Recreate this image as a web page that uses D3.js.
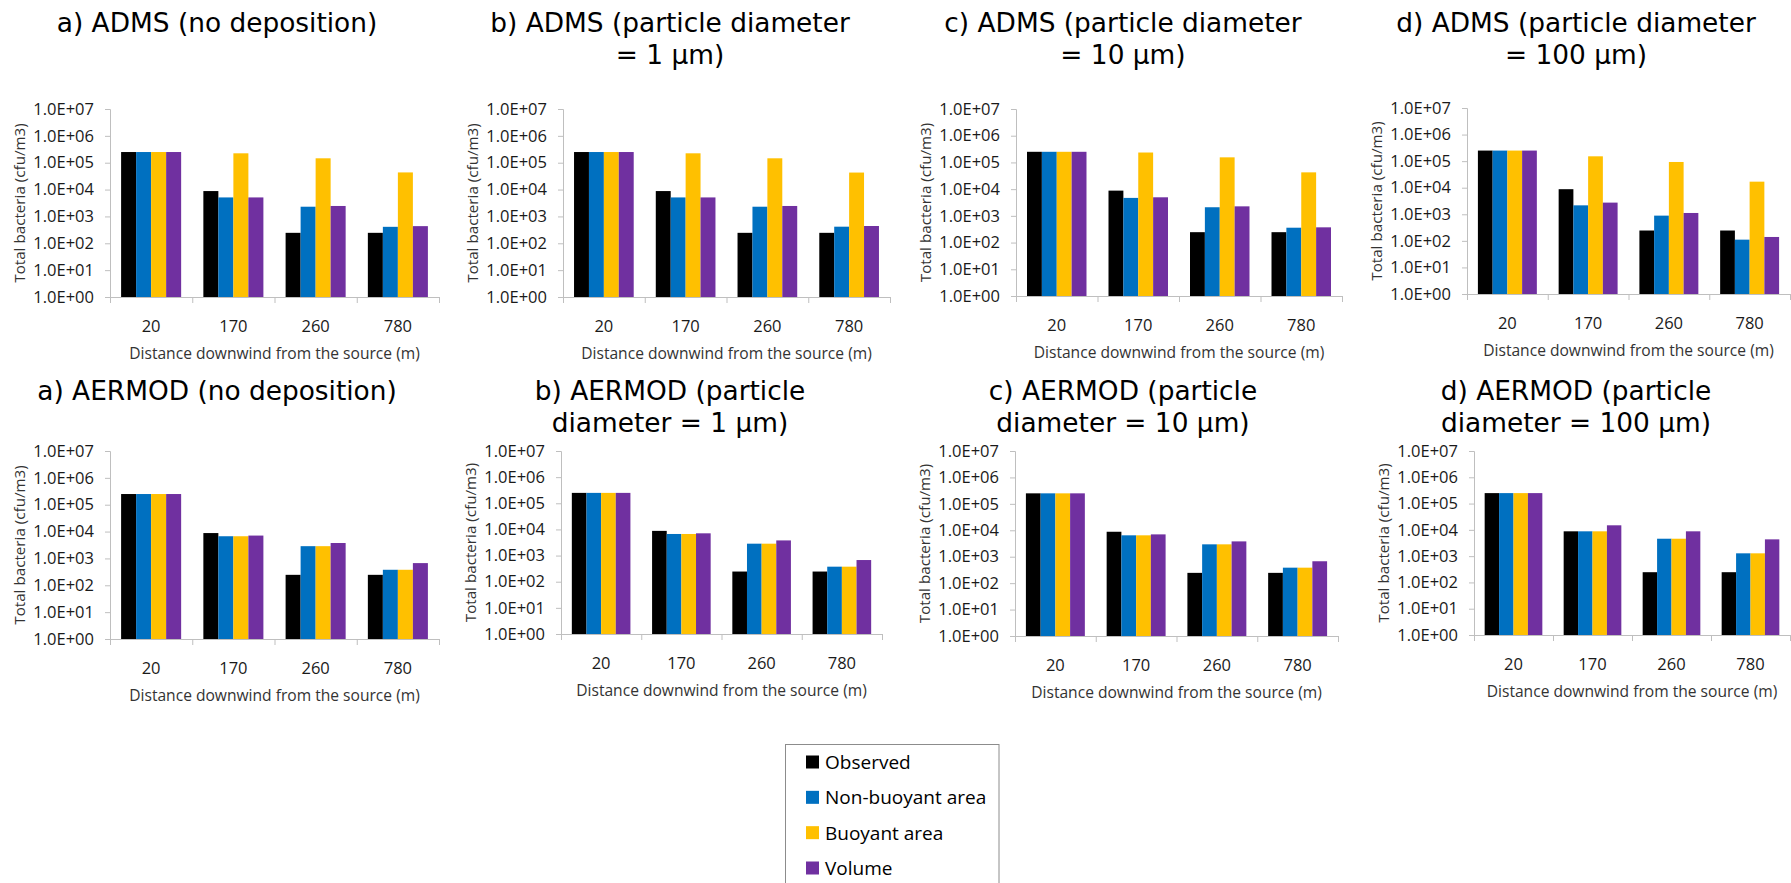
<!DOCTYPE html>
<html><head><meta charset="utf-8">
<script src="https://cdn.jsdelivr.net/npm/d3@7"></script>
<style>body{margin:0;background:#fff;overflow:hidden}</style>
</head><body>
<svg id="c" width="1791" height="883"></svg>
<script>
// ---------- data ----------
const categories = ["20", "170", "260", "780"];
const seriesNames = ["Observed", "Non-buoyant area", "Buoyant area", "Volume"];
const seriesColors = ["#000000", "#0070C0", "#FFC000", "#7030A0"];
const yTickValues = [1, 10, 100, 1e3, 1e4, 1e5, 1e6, 1e7];
const yAxisTitle = "Total bacteria (cfu/m3)";
const xAxisTitle = "Distance downwind from the source (m)";

const observed = [2.5e5, 8.8e3, 245, 245];

// ADMS
const admsNoDepNonBuoyant = [2.5e5, 5.1e3, 2.3e3, 410];
const admsNoDepBuoyant    = [2.5e5, 2.24e5, 1.46e5, 4.35e4];
const admsNoDepVolume     = [2.5e5, 5.1e3, 2.45e3, 435];

const adms1NonBuoyant = [2.5e5, 5.1e3, 2.3e3, 415];
const adms1Buoyant    = [2.5e5, 2.24e5, 1.46e5, 4.3e4];
const adms1Volume     = [2.5e5, 5.1e3, 2.45e3, 440];

const adms10NonBuoyant = [2.5e5, 4.7e3, 2.1e3, 360];
const adms10Buoyant    = [2.5e5, 2.35e5, 1.55e5, 4.25e4];
const adms10Volume     = [2.5e5, 4.95e3, 2.27e3, 372];

const adms100NonBuoyant = [2.5e5, 2.17e3, 890, 111];
const adms100Buoyant    = [2.5e5, 1.52e5, 9.3e4, 1.69e4];
const adms100Volume     = [2.5e5, 2.75e3, 1.12e3, 140];

// AERMOD
const aermodNoDepNonBuoyant = [2.5e5, 6.7e3, 2.86e3, 378];
const aermodNoDepBuoyant    = [2.5e5, 6.7e3, 2.86e3, 378];
const aermodNoDepVolume     = [2.5e5, 7.1e3, 3.75e3, 670];

const aermod1NonBuoyant = [2.5e5, 6.7e3, 2.85e3, 376];
const aermod1Buoyant    = [2.5e5, 6.7e3, 2.85e3, 376];
const aermod1Volume     = [2.5e5, 7.1e3, 3.8e3, 675];

const aermod10NonBuoyant = [2.5e5, 6.45e3, 2.94e3, 385];
const aermod10Buoyant    = [2.5e5, 6.45e3, 2.94e3, 385];
const aermod10Volume     = [2.5e5, 7.0e3, 3.8e3, 673];

const aermod100NonBuoyant = [2.5e5, 8.8e3, 4.6e3, 1.28e3];
const aermod100Buoyant    = [2.5e5, 8.8e3, 4.6e3, 1.28e3];
const aermod100Volume     = [2.5e5, 1.49e4, 8.8e3, 4.35e3];

const titles = [
  ["a) ADMS (no deposition)"],
  ["b) ADMS (particle diameter", "= 1 µm)"],
  ["c) ADMS (particle diameter", "= 10 µm)"],
  ["d) ADMS (particle diameter", "= 100 µm)"],
  ["a) AERMOD (no deposition)"],
  ["b) AERMOD (particle", "diameter = 1 µm)"],
  ["c) AERMOD (particle", "diameter = 10 µm)"],
  ["d) AERMOD (particle", "diameter = 100 µm)"]
];
const panelSeries = [
  [observed, admsNoDepNonBuoyant, admsNoDepBuoyant, admsNoDepVolume],
  [observed, adms1NonBuoyant, adms1Buoyant, adms1Volume],
  [observed, adms10NonBuoyant, adms10Buoyant, adms10Volume],
  [observed, adms100NonBuoyant, adms100Buoyant, adms100Volume],
  [observed, aermodNoDepNonBuoyant, aermodNoDepBuoyant, aermodNoDepVolume],
  [observed, aermod1NonBuoyant, aermod1Buoyant, aermod1Volume],
  [observed, aermod10NonBuoyant, aermod10Buoyant, aermod10Volume],
  [observed, aermod100NonBuoyant, aermod100Buoyant, aermod100Volume]
];

// ---------- layout ----------
const layout = [
  {x0:110, x1:439, y0:109, y1:297, tx:217, tb:32},
  {x0:563, x1:890, y0:109, y1:297, tx:670, tb:32},
  {x0:1016, x1:1342, y0:109, y1:296, tx:1123, tb:32},
  {x0:1467, x1:1790, y0:108, y1:294, tx:1576, tb:32},
  {x0:110, x1:439, y0:451, y1:639, tx:217, tb:400},
  {x0:561, x1:882, y0:451, y1:634, tx:670, tb:400},
  {x0:1015, x1:1338, y0:451, y1:636, tx:1123, tb:400},
  {x0:1474, x1:1790, y0:451, y1:635, tx:1576, tb:400}
];

const svg = d3.select("#c");
const axisColor = "#BFBFBF";
const textColor = "#333333";
const tickFont = "'Open Sans', sans-serif";
const titleFont = "'DejaVu Sans', Verdana, sans-serif";
const fmt = d => "1.0E+" + String(Math.round(Math.log10(d))).padStart(2, "0");

layout.forEach((L, pi) => {
  const g = svg.append("g");
  const x = d3.scaleBand().domain(categories).range([L.x0, L.x1]).paddingInner(0.27).paddingOuter(0.135);
  const xs = d3.scaleBand().domain(d3.range(seriesNames.length)).range([0, x.bandwidth()]).padding(0);
  const xb = d3.scaleLinear().domain([0, categories.length]).range([L.x0, L.x1]);
  const y = d3.scaleLog().domain([1, 1e7]).range([L.y1, L.y0]);

  // bars
  panelSeries[pi].forEach((vals, si) => {
    g.append("g").selectAll("rect").data(vals).join("rect")
      .attr("x", (d, i) => x(categories[i]) + xs(si))
      .attr("width", xs.bandwidth())
      .attr("y", d => y(d))
      .attr("height", d => y(1) - y(d))
      .attr("fill", seriesColors[si]);
  });

  // y axis
  const ya = g.append("g").attr("transform", `translate(${L.x0},0)`)
    .call(d3.axisLeft(y).tickValues(yTickValues).tickFormat(fmt).tickSize(5).tickPadding(11));
  ya.select(".domain").attr("stroke", axisColor);
  ya.selectAll(".tick line").attr("stroke", axisColor);
  ya.selectAll("text").attr("font-family", tickFont).attr("font-size", 16.5).attr("fill", "#1a1a1a");

  // x axis boundaries
  const xa = g.append("g").attr("transform", `translate(0,${L.y1})`)
    .call(d3.axisBottom(xb).tickValues(d3.range(categories.length + 1)).tickFormat("").tickSize(6).tickSizeOuter(0));
  xa.select(".domain").attr("stroke", axisColor);
  xa.selectAll(".tick line").attr("stroke", axisColor);

  // x labels
  const xl = g.append("g").attr("transform", `translate(0,${L.y1})`)
    .call(d3.axisBottom(x).tickSize(0).tickPadding(23));
  xl.select(".domain").remove();
  xl.selectAll("text").attr("font-family", tickFont).attr("font-size", 16.5).attr("fill", "#1a1a1a");

  // axis titles
  g.append("text").attr("x", (L.x0 + L.x1) / 2).attr("y", L.y1 + 62)
    .attr("text-anchor", "middle").attr("font-family", tickFont).attr("font-size", 15.6)
    .attr("fill", textColor).text(xAxisTitle);
  g.append("text").attr("transform", `translate(${L.x0 - 91},${(L.y0 + L.y1) / 2}) rotate(-90)`)
    .attr("text-anchor", "middle").attr("dominant-baseline", "central")
    .attr("font-family", tickFont).attr("font-size", 15.2).attr("fill", textColor).text(yAxisTitle);

  // title
  titles[pi].forEach((line, li) => {
    g.append("text").attr("x", L.tx).attr("y", L.tb + li * 31.5)
      .attr("text-anchor", "middle").attr("font-family", titleFont).attr("font-size", 26.4)
      .attr("fill", "#000").text(line);
  });
});

// legend
const lg = svg.append("g");
lg.append("rect").attr("x", 785.5).attr("y", 744.5).attr("width", 213.5).attr("height", 150)
  .attr("fill", "#fff").attr("stroke", "#8C8C8C");
const ly = d3.scalePoint().domain(seriesNames).range([762, 868]);
seriesNames.forEach((s, i) => {
  lg.append("rect").attr("x", 806).attr("y", ly(s) - 6.5).attr("width", 13).attr("height", 13).attr("fill", seriesColors[i]);
  lg.append("text").attr("x", 825).attr("y", ly(s)).attr("dy", "0.36em")
    .attr("font-family", tickFont).attr("font-size", 19).attr("fill", "#000").text(s);
});
</script>
</body></html>
